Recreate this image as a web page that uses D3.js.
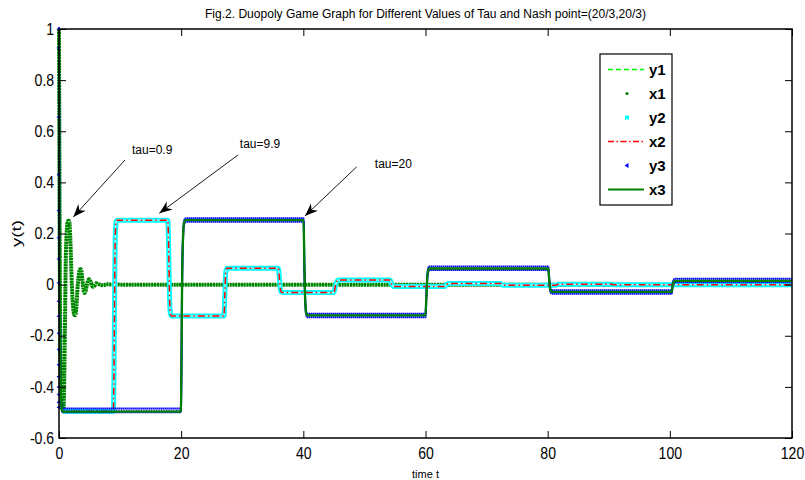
<!DOCTYPE html>
<html><head><meta charset="utf-8">
<script src="https://cdn.jsdelivr.net/npm/d3@7"></script>
<style>
body{margin:0;background:#fff}
svg{display:block}
text{font-family:"Liberation Sans",Arial,Helvetica,sans-serif;fill:#000}
</style>
</head><body>
<svg id="c" width="805" height="480"></svg>
<script>
// ---------- data ----------
const titleText = "Fig.2. Duopoly Game Graph for Different Values of Tau and Nash point=(20/3,20/3)";
const xLabelText = "time t";
const yLabelText = "y(t)";
const xTicks = [0, 20, 40, 60, 80, 100, 120];
const xTickLabels = ["0", "20", "40", "60", "80", "100", "120"];
const yTicks = [-0.6, -0.4, -0.2, 0, 0.2, 0.4, 0.6, 0.8, 1];
const yTickLabels = ["-0.6", "-0.4", "-0.2", "0", "0.2", "0.4", "0.6", "0.8", "1"];
const seriesNames = ["y1", "x1", "y2", "x2", "y3", "x3"];

// tau = 0.9  (y1, x1)
const tauA_t  = [0, 0.05, 0.1, 0.15, 0.2, 0.28, 0.4, 0.6, 0.72, 0.8, 0.9, 1.0, 1.1, 1.25, 1.45, 1.65, 1.8, 1.95, 2.1, 2.3, 2.5, 2.65, 2.85, 3.0, 3.2, 3.45, 3.6, 3.8, 4.0, 4.15, 4.3, 4.6, 4.9, 5.15, 5.5, 5.8, 6.15, 6.6, 7.0, 8.0, 10, 120];
const y1Vals  = [1, 0.6, 0.25, 0, -0.2, -0.38, -0.47, -0.492, -0.49, -0.35, -0.15, 0.05, 0.17, 0.235, 0.252, 0.245, 0.2, 0.1, -0.01, -0.09, -0.12, -0.12, -0.08, -0.02, 0.035, 0.06, 0.058, 0.02, -0.02, -0.033, -0.028, 0.005, 0.021, 0.012, -0.008, -0.004, 0.005, 0.0, -0.002, 0.001, 0, 0];
const x1Vals  = [1, 0.6, 0.25, 0, -0.2, -0.38, -0.47, -0.492, -0.492, -0.45, -0.3, -0.1, 0.08, 0.2, 0.248, 0.25, 0.21, 0.11, 0.0, -0.085, -0.118, -0.12, -0.085, -0.025, 0.03, 0.06, 0.06, 0.025, -0.018, -0.033, -0.03, 0.003, 0.021, 0.013, -0.008, -0.005, 0.005, 0.001, -0.002, 0.001, 0, 0];

// tau = 9.9  (y2, x2)
const tauB_t  = [0, 0.05, 0.1, 0.15, 0.2, 0.28, 0.4, 0.6, 8.9, 9.0, 9.1, 9.2, 9.35, 9.5, 17.8, 17.95, 18.1, 18.25, 18.45, 27.0, 27.15, 27.3, 27.5, 35.9, 36.1, 36.3, 36.6, 45.0, 45.25, 45.5, 45.8, 54.2, 54.45, 54.8, 63.2, 63.45, 63.7, 72.3, 72.6, 81.4, 81.7, 90.5, 90.8, 120];
const y2Vals  = [1, 0.6, 0.25, 0, -0.2, -0.38, -0.47, -0.495, -0.495, -0.35, -0.05, 0.18, 0.245, 0.252, 0.252, 0.15, -0.05, -0.115, -0.123, -0.123, -0.04, 0.05, 0.064, 0.064, 0.02, -0.025, -0.031, -0.031, -0.005, 0.014, 0.018, 0.018, 0.002, -0.007, -0.007, 0.0, 0.004, 0.004, -0.002, -0.002, 0.001, 0.001, 0, 0];
const x2Vals  = [1, 0.6, 0.25, 0, -0.2, -0.38, -0.47, -0.495, -0.495, -0.35, -0.05, 0.18, 0.245, 0.252, 0.252, 0.15, -0.05, -0.115, -0.123, -0.123, -0.04, 0.05, 0.064, 0.064, 0.02, -0.025, -0.031, -0.031, -0.005, 0.014, 0.018, 0.018, 0.002, -0.007, -0.007, 0.0, 0.004, 0.004, -0.002, -0.002, 0.001, 0.001, 0, 0];

// tau = 20  (y3, x3)
const tauC_t  = [0, 0.05, 0.1, 0.15, 0.2, 0.28, 0.4, 0.6, 19.95, 20.05, 20.15, 20.3, 20.5, 20.8, 40.05, 40.15, 40.3, 40.5, 40.7, 60.0, 60.15, 60.35, 60.6, 80.1, 80.25, 80.45, 80.7, 100.3, 100.45, 100.65, 100.9, 120];
const y3Vals  = [1, 0.6, 0.25, 0, -0.2, -0.38, -0.47, -0.492, -0.492, -0.3, 0.0, 0.18, 0.245, 0.253, 0.253, 0.1, -0.06, -0.115, -0.121, -0.121, -0.04, 0.045, 0.064, 0.064, 0.02, -0.022, -0.029, -0.029, -0.005, 0.013, 0.016, 0.016];
const x3Vals  = [1, 0.6, 0.25, 0, -0.2, -0.38, -0.47, -0.497, -0.497, -0.3, 0.0, 0.18, 0.245, 0.252, 0.252, 0.1, -0.06, -0.115, -0.12, -0.12, -0.04, 0.045, 0.063, 0.063, 0.02, -0.022, -0.028, -0.028, -0.005, 0.012, 0.015, 0.015];
// individual y3 markers visible on the initial drop at t = 0
const y3DropVals = [1, 0.926, 0.656, 0.43, 0.29, 0.183, 0.1, 0.007, -0.065, -0.124, -0.19, -0.254, -0.313, -0.36, -0.40, -0.43, -0.46, -0.48];

// annotations (data coordinates)
const annTexts = ["tau=0.9", "tau=9.9", "tau=20"];
const annTextT = [11.95, 29.6, 51.7];
const annTextY = [0.511, 0.534, 0.456];
const annTailT = [10.8, 29.3, 48.74];
const annTailY = [0.4875, 0.507, 0.461];
const annTipT  = [2.34, 16.42, 40.27];
const annTipY  = [0.2646, 0.279, 0.2685];

// ---------- drawing ----------
const svg = d3.select("#c");
const L = 59, R = 792, T = 29, B = 438;
const x = d3.scaleLinear().domain([0, 120]).range([L, R]);
const y = d3.scaleLinear().domain([-0.6, 1]).range([B, T]);

const zip = (ts, vs) => ts.map((t, i) => [t, vs[i]]);
const line = d3.line().x(d => x(d[0])).y(d => y(d[1])).curve(d3.curveMonotoneX);

svg.append("rect").attr("x", 0).attr("y", 0).attr("width", 805).attr("height", 480).attr("fill", "#fff");
svg.append("defs").append("clipPath").attr("id", "clip")
  .append("rect").attr("x", L - 4).attr("y", T - 3).attr("width", R - L + 6).attr("height", B - T + 6);
const plot = svg.append("g").attr("clip-path", "url(#clip)");

function drawPath(data, stroke, w, dash, dy) {
  plot.append("path").datum(data)
    .attr("d", line)
    .attr("transform", dy ? `translate(0,${dy})` : null)
    .attr("fill", "none")
    .attr("stroke", stroke)
    .attr("stroke-width", w)
    .attr("stroke-linejoin", "round")
    .attr("stroke-dasharray", dash);
}

const y1Data = zip(tauA_t, y1Vals), x1Data = zip(tauA_t, x1Vals);
const y2Data = zip(tauB_t, y2Vals), x2Data = zip(tauB_t, x2Vals);
const y3Data = zip(tauC_t, y3Vals), x3Data = zip(tauC_t, x3Vals);

// y1: green dashed
drawPath(y1Data, "#00ff00", 1.4, "5,3");
// x1: dense dark green dots
drawPath(x1Data, "#008000", 4, "2.2,0.6");
// y2: dense cyan squares (band), after the initial drop
drawPath(y2Data.slice(7), "#00ffff", 5, null);
drawPath(y2Data.slice(7), "#b8ffff", 1.2, null);
drawPath(y2Data.slice(0, 8), "#00ffff", 1, "1,4");
// x2: red dash-dot
drawPath(x2Data, "#ff0000", 1.5, "7,3,1.5,3");
// y3: dense blue triangles (band around the line)
drawPath(y3Data, "#0000ff", 2, "1.6,0.4", -1.8);
drawPath(y3Data, "#0000ff", 2, "1.6,0.4", 1.8);
drawPath(y3Data, "#0000ff", 1.4, "1,1.5", 0);
// x3: solid dark green
drawPath(x3Data, "#008000", 2.3, null);
// y3 markers on the initial drop
plot.selectAll(".drop").data(y3DropVals).enter().append("path")
  .attr("d", d => `M${x(0) - 2.5},${y(d)} L${x(0) + 1},${y(d) - 2} L${x(0) + 1},${y(d) + 2} Z`)
  .attr("fill", "#0000ff");

// axes
const tickLen = 7;
const gB = svg.append("g").attr("transform", `translate(0,${B})`)
  .call(d3.axisBottom(x).tickValues(xTicks).tickFormat((d, i) => xTickLabels[i]).tickSize(-tickLen).tickSizeOuter(0).tickPadding(10));
const gL = svg.append("g").attr("transform", `translate(${L},0)`)
  .call(d3.axisLeft(y).tickValues(yTicks).tickFormat((d, i) => yTickLabels[i]).tickSize(-tickLen).tickSizeOuter(0).tickPadding(5.5));
const gT = svg.append("g").attr("transform", `translate(0,${T})`)
  .call(d3.axisTop(x).tickValues(xTicks).tickFormat("").tickSize(-tickLen).tickSizeOuter(0));
const gR = svg.append("g").attr("transform", `translate(${R},0)`)
  .call(d3.axisRight(y).tickValues(yTicks).tickFormat("").tickSize(-tickLen).tickSizeOuter(0));
[gB, gL, gT, gR].forEach(g => {
  g.select(".domain").remove();
  g.selectAll("line").attr("stroke", "#000").attr("stroke-width", 1);
  g.selectAll("text").attr("font-family", "'Liberation Sans',Arial,sans-serif").attr("font-size", 16).attr("fill", "#000");
});
gB.selectAll(".tick text").attr("transform", "scale(0.88,1)");
gL.selectAll(".tick text").attr("transform", "scale(0.88,1)");

// frame
svg.append("rect").attr("x", L).attr("y", T).attr("width", R - L).attr("height", B - T)
  .attr("fill", "none").attr("stroke", "#000").attr("stroke-width", 1.5);

// title and axis labels
svg.append("text").attr("x", (L + R) / 2).attr("y", 17.5).attr("text-anchor", "middle")
  .attr("font-size", 12).attr("textLength", 441).attr("lengthAdjust", "spacingAndGlyphs").text(titleText);
svg.append("text").attr("x", (L + R) / 2).attr("y", 478).attr("text-anchor", "middle")
  .attr("font-size", 11).text(xLabelText);
svg.append("text").attr("transform", `translate(21,${(T + B) / 2}) rotate(-90)`).attr("text-anchor", "middle")
  .attr("font-size", 12).attr("textLength", 27).attr("lengthAdjust", "spacingAndGlyphs").text(yLabelText);

// annotations
const ann = svg.append("g");
annTexts.forEach((txt, i) => {
  const x0 = x(annTailT[i]), y0 = y(annTailY[i]);
  const x1 = x(annTipT[i]), y1 = y(annTipY[i]);
  const ang = Math.atan2(y1 - y0, x1 - x0) * 180 / Math.PI;
  ann.append("line").attr("x1", x0).attr("y1", y0).attr("x2", x1).attr("y2", y1)
    .attr("stroke", "#000").attr("stroke-width", 0.9);
  ann.append("path").attr("d", "M0,0 L-13,-5 L-9,0 L-13,5 Z")
    .attr("transform", `translate(${x1},${y1}) rotate(${ang})`).attr("fill", "#000");
  ann.append("text").attr("x", x(annTextT[i])).attr("y", y(annTextY[i]))
    .attr("font-size", 12).text(txt);
});

// legend
const lg = svg.append("g");
lg.append("rect").attr("x", 600).attr("y", 54).attr("width", 72).attr("height", 151)
  .attr("fill", "#fff").attr("stroke", "#000").attr("stroke-width", 1.2);
const rowY = i => 69.5 + i * 24;
seriesNames.forEach((nm, i) => {
  const cy = rowY(i);
  if (nm === "y1") {
    lg.append("line").attr("x1", 608).attr("x2", 644).attr("y1", cy).attr("y2", cy)
      .attr("stroke", "#00ff00").attr("stroke-width", 1.4).attr("stroke-dasharray", "5,3");
  } else if (nm === "x2") {
    lg.append("line").attr("x1", 608).attr("x2", 644).attr("y1", cy).attr("y2", cy)
      .attr("stroke", "#ff0000").attr("stroke-width", 1.4).attr("stroke-dasharray", "6,2.5,1.5,2.5");
  } else if (nm === "x3") {
    lg.append("line").attr("x1", 608).attr("x2", 644).attr("y1", cy).attr("y2", cy)
      .attr("stroke", "#008000").attr("stroke-width", 2);
  } else if (nm === "x1") {
    lg.append("circle").attr("cx", 627).attr("cy", cy).attr("r", 1.6).attr("fill", "#008000");
  } else if (nm === "y2") {
    lg.append("rect").attr("x", 625).attr("y", cy - 2).attr("width", 4).attr("height", 4).attr("fill", "#00ffff");
  } else if (nm === "y3") {
    lg.append("path").attr("d", `M${624.5},${cy} L${628.5},${cy - 2.5} L${628.5},${cy + 2.5} Z`).attr("fill", "#0000ff");
  }
  lg.append("text").attr("x", 649).attr("y", cy + 5.5).attr("font-size", 15).attr("font-weight", "bold").text(nm);
});
</script>
</body></html>
